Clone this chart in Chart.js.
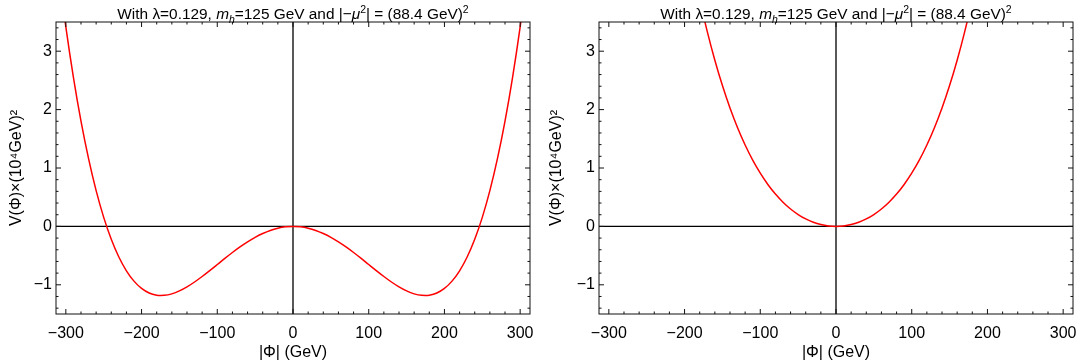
<!DOCTYPE html>
<html>
<head>
<meta charset="utf-8">
<script src="https://cdn.jsdelivr.net/npm/chart.js@4.4.0/dist/chart.umd.min.js"></script>
<style>
  html, body { margin: 0; padding: 0; background: #fff; }
  #wrap { position: relative; width: 1081px; height: 362px; }
  canvas { position: absolute; top: 0; }
</style>
</head>
<body>
<div id="wrap">
  <canvas id="left" width="540" height="362" style="left:0"></canvas>
  <canvas id="right" width="541" height="362" style="left:540px"></canvas>
</div>
<script>
// |Phi| in GeV, V in units of (10^4 GeV)^2
const phiWide = [-310, -300, -290, -280, -270, -260, -250, -240, -230, -220, -210, -200, -190, -180, -175, -170, -160, -150, -140, -130, -120, -110, -100, -90, -80, -70, -60, -50, -40, -30, -20, -10,
  0, 10, 20, 30, 40, 50, 60, 70, 80, 90, 100, 110, 120, 130, 140, 150, 160, 170, 175, 180, 190, 200, 210, 220, 230, 240, 250, 260, 270, 280, 290, 300, 310];
const vBroken = [4.403, 3.416, 2.552, 1.802, 1.159, 0.612, 0.155, -0.221, -0.524, -0.760, -0.937, -1.062, -1.140, -1.178, -1.183, -1.181, -1.155, -1.105, -1.036, -0.952, -0.858, -0.757, -0.653, -0.548, -0.447, -0.352, -0.265, -0.187, -0.122, -0.069, -0.031, -0.008,
  0, -0.008, -0.031, -0.069, -0.122, -0.187, -0.265, -0.352, -0.447, -0.548, -0.653, -0.757, -0.858, -0.952, -1.036, -1.105, -1.155, -1.181, -1.183, -1.178, -1.140, -1.062, -0.937, -0.760, -0.524, -0.221, 0.155, 0.612, 1.159, 1.802, 2.552, 3.416, 4.403];

const phiNarrow = [-190, -180, -170, -160, -150, -140, -130, -120, -110, -100, -90, -80, -70, -60, -50, -40, -30, -20, -10,
  0, 10, 20, 30, 40, 50, 60, 70, 80, 90, 100, 110, 120, 130, 140, 150, 160, 170, 180, 190];
const vSymmetric = [4.502, 3.886, 3.336, 2.846, 2.411, 2.027, 1.689, 1.393, 1.134, 0.911, 0.718, 0.553, 0.414, 0.298, 0.203, 0.128, 0.071, 0.031, 0.008,
  0, 0.008, 0.031, 0.071, 0.128, 0.203, 0.298, 0.414, 0.553, 0.718, 0.911, 1.134, 1.393, 1.689, 2.027, 2.411, 2.846, 3.336, 3.886, 4.502];

const xRange = [-313, 313];
const yRange = [-1.5, 3.5];
const xTicks = [-300, -200, -100, 0, 100, 200, 300];
const yTicks = [-1, 0, 1, 2, 3];
const xMinorStep = 20, yMinorStep = 0.2;

const FONT = "'Liberation Sans', Arial, sans-serif";

// title pieces: [text, style]
const titleParts = [
  ["With ", ""], ["\u03bb", ""], ["=0.129, ", ""], ["m", "i"], ["h", "isub"],
  ["=125 GeV and |\u2212", ""], ["\u03bc", "i"], ["2", "sup"],
  ["| = (88.4 GeV)", ""], ["2", "sup"]
];

function fmtTick(v) {
  return v < 0 ? "\u2212" + Math.abs(v) : String(v);
}

function partFont(style) {
  const italic = style.startsWith("i") ? "italic " : "";
  const size = style.endsWith("sub") || style === "sup" ? 10.5 : 15.4;
  return italic + size + "px " + FONT;
}

const framePlugin = {
  id: "frame",
  beforeDatasetsDraw(chart) {
    const { ctx, chartArea: a, scales: { x, y } } = chart;
    ctx.save();
    ctx.strokeStyle = "#000";
    ctx.lineWidth = 1.3;
    const x0 = x.getPixelForValue(0), y0 = y.getPixelForValue(0);
    ctx.beginPath();
    ctx.moveTo(x0, a.top); ctx.lineTo(x0, a.bottom);
    ctx.moveTo(a.left, y0); ctx.lineTo(a.right, y0);
    ctx.stroke();
    ctx.restore();
  },
  afterDatasetsDraw(chart) {
    const { ctx, chartArea: a, scales: { x, y } } = chart;
    ctx.save();
    ctx.strokeStyle = "#111";
    ctx.lineWidth = 1;
    ctx.strokeRect(a.left, a.top, a.right - a.left, a.bottom - a.top);
    ctx.beginPath();
    for (let v = -300; v <= 300; v += xMinorStep) {
      const px = x.getPixelForValue(v);
      const len = xTicks.includes(v) ? 5 : 2.5;
      ctx.moveTo(px, a.bottom); ctx.lineTo(px, a.bottom - len);
      ctx.moveTo(px, a.top); ctx.lineTo(px, a.top + len);
    }
    for (let i = -7; i <= 17; i++) {
      const py = y.getPixelForValue(i * yMinorStep);
      const len = i % 5 === 0 ? 5 : 2.5;
      ctx.moveTo(a.left, py); ctx.lineTo(a.left + len, py);
      ctx.moveTo(a.right, py); ctx.lineTo(a.right - len, py);
    }
    ctx.stroke();
    ctx.restore();
  },
  afterDraw(chart) {
    const { ctx, chartArea: a } = chart;
    ctx.save();
    ctx.fillStyle = "#000";
    ctx.textBaseline = "alphabetic";
    let total = 0;
    titleParts.forEach(([t, s]) => { ctx.font = partFont(s); total += ctx.measureText(t).width; });
    let cx = (a.left + a.right) / 2 - total / 2;
    const base = 19;
    titleParts.forEach(([t, s]) => {
      ctx.font = partFont(s);
      let dy = 0;
      if (s.endsWith("sub")) dy = 4;
      if (s === "sup") dy = -6;
      ctx.fillText(t, cx, base + dy);
      cx += ctx.measureText(t).width;
    });
    ctx.restore();
  }
};

function makePanel(id, xs, ys, yAxisWidth, padRight) {
  const pts = xs.map((v, i) => ({ x: v, y: ys[i] }));
  return new Chart(document.getElementById(id), {
    type: "line",
    data: {
      datasets: [{
        data: pts,
        borderColor: "#ff0000",
        borderWidth: 1.5,
        pointRadius: 0,
        fill: false,
        cubicInterpolationMode: "monotone",
        clip: 0
      }]
    },
    options: {
      responsive: false,
      animation: false,
      layout: { padding: { top: 22, right: padRight, bottom: 0, left: 0 } },
      plugins: { legend: { display: false }, tooltip: { enabled: false } },
      scales: {
        x: {
          type: "linear",
          min: xRange[0], max: xRange[1],
          grid: { display: false, drawTicks: false },
          border: { display: false },
          afterBuildTicks: (s) => { s.ticks = xTicks.map((v) => ({ value: v })); },
          ticks: {
            padding: 10, maxRotation: 0, autoSkip: false,
            color: "#000", font: { family: FONT, size: 16 }, callback: fmtTick
          },
          title: {
            display: true, text: "|\u03a6| (GeV)", color: "#000",
            font: { family: FONT, size: 16 }, padding: { top: 0, bottom: 0 }
          },
          afterFit: (s) => { s.height = 48; s.paddingLeft = 0; s.paddingRight = 0; }
        },
        y: {
          min: yRange[0], max: yRange[1],
          grid: { display: false, drawTicks: false },
          border: { display: false },
          afterBuildTicks: (s) => { s.ticks = yTicks.map((v) => ({ value: v })); },
          ticks: {
            padding: 4, color: "#000", font: { family: FONT, size: 16 }, callback: fmtTick
          },
          title: {
            display: true, text: "V(\u03a6)\u00d7(10\u2074GeV)\u00b2", color: "#000",
            font: { family: FONT, size: 16 }, padding: { top: 7, bottom: 0 }
          },
          afterFit: (s) => { s.width = yAxisWidth; s.paddingTop = 0; s.paddingBottom = 0; }
        }
      }
    },
    plugins: [framePlugin]
  });
}

makePanel("left", phiWide, vBroken, 56, 10);
makePanel("right", phiNarrow, vSymmetric, 59, 8);
</script>
</body>
</html>
